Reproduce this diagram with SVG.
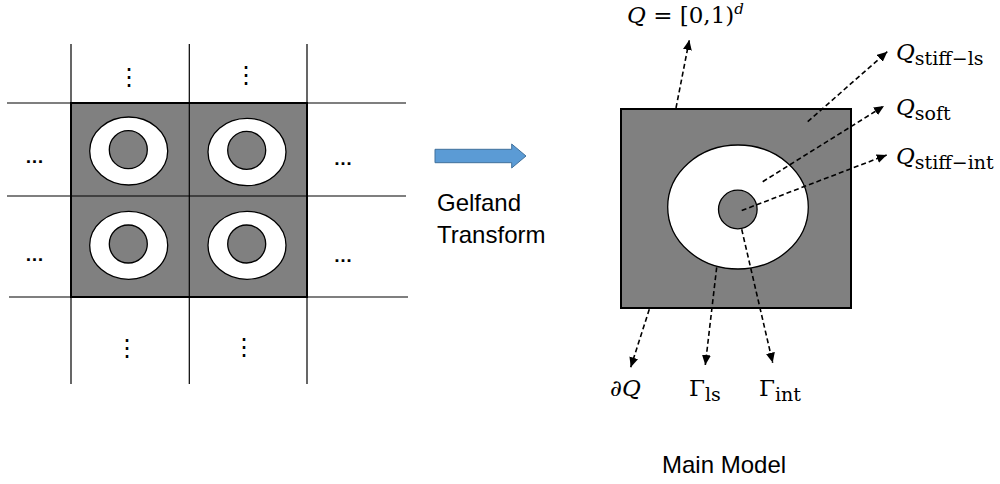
<svg xmlns="http://www.w3.org/2000/svg" width="1000" height="484" viewBox="0 0 1000 484">
<defs>
<style>
.gl{stroke:#000;stroke-width:1.2;fill:none}
.gray{fill:#808080;stroke:#000;stroke-width:2}
.inc{fill:#fff;stroke:#000;stroke-width:1.3}
.core{fill:#808080;stroke:#000;stroke-width:1.3}
.txt{font-family:"Liberation Sans",Arial,sans-serif;font-size:24px;fill:#000}
.dots{font-family:"Liberation Sans",Arial,sans-serif;font-size:19px;font-weight:bold;fill:#000;text-anchor:middle}
.vdots{font-family:"DejaVu Sans",sans-serif;font-size:24px;fill:#000;text-anchor:middle}
.math{font-family:"DejaVu Serif","Liberation Serif",serif;font-size:23px;fill:#000}
.it{font-style:italic}
.sub{font-size:19px}
.dash{stroke:#000;stroke-width:1.6;stroke-dasharray:5 3;fill:none;marker-end:url(#ah)}
</style>
<marker id="ah" markerWidth="10" markerHeight="10" refX="10" refY="5" orient="auto" markerUnits="userSpaceOnUse">
<path d="M0,0.5 L10,5 L0,9.5 z" fill="#000"/>
</marker>
</defs>
<rect width="1000" height="484" fill="#fff"/>

<g id="periodic-tiling">
<rect class="gray" x="71" y="103" width="236" height="194"/>
<g id="cell-tl"><ellipse class="inc" cx="128.7" cy="151" rx="39" ry="34"/><circle class="core" cx="128.3" cy="149.7" r="19"/></g>
<g id="cell-tr"><ellipse class="inc" cx="247" cy="152" rx="39" ry="33.7"/><circle class="core" cx="246.7" cy="150.3" r="19"/></g>
<g id="cell-bl"><ellipse class="inc" cx="128.7" cy="245.3" rx="39" ry="34"/><circle class="core" cx="128.3" cy="244" r="19"/></g>
<g id="cell-br"><ellipse class="inc" cx="247" cy="245.3" rx="39" ry="34"/><circle class="core" cx="246.7" cy="244" r="19"/></g>
<line class="gl" x1="71" y1="44" x2="71" y2="384"/>
<line class="gl" x1="189.3" y1="44" x2="189.3" y2="384"/>
<line class="gl" x1="307" y1="44" x2="307" y2="384"/>
<line class="gl" x1="7" y1="103" x2="406" y2="103"/>
<line class="gl" x1="7" y1="196" x2="406" y2="196"/>
<line class="gl" x1="9" y1="297" x2="408" y2="297"/>
<text class="vdots" x="129" y="84.5">⋮</text>
<text class="vdots" x="246" y="83">⋮</text>
<text class="vdots" x="127" y="356">⋮</text>
<text class="vdots" x="244" y="355">⋮</text>
<text class="dots" x="34.5" y="163">…</text>
<text class="dots" x="343" y="165">…</text>
<text class="dots" x="34.5" y="260.5">…</text>
<text class="dots" x="343" y="262">…</text>
</g>

<g id="gelfand-transform">
<path d="M435,149.3 L511.7,149.3 L511.7,144 L526,156 L511.7,168 L511.7,162.7 L435,162.7 Z" fill="#5B9BD5" stroke="#41719C" stroke-width="1"/>
<text class="txt" x="437" y="210.7">Gelfand</text>
<text class="txt" x="437" y="242.7">Transform</text>
</g>

<g id="main-model">
<rect id="unit-cell" class="gray" x="621" y="109" width="230" height="199"/>
<ellipse id="soft-inclusion" class="inc" cx="738" cy="207" rx="70.3" ry="62"/>
<circle id="stiff-inclusion" class="core" cx="737.8" cy="209.5" r="19.3"/>
<text class="txt" x="662" y="473.3">Main Model</text>
</g>

<g id="connectors">
<line class="dash" x1="676" y1="108" x2="689.3" y2="40"/>
<line class="dash" x1="807.7" y1="121.7" x2="887.3" y2="51.7"/>
<line class="dash" x1="762.7" y1="181.7" x2="884" y2="106"/>
<line class="dash" x1="741.7" y1="210.5" x2="886.7" y2="155"/>
<line class="dash" x1="649.3" y1="309.3" x2="630.7" y2="367.3"/>
<line class="dash" x1="716.7" y1="267.3" x2="705.3" y2="365"/>
<line class="dash" x1="741.7" y1="229.3" x2="772.7" y2="362.7"/>
</g>

<g id="label-Q">
<text class="math" x="627" y="23" font-size="22"><tspan class="it">Q</tspan> = [0,1)<tspan class="it" font-size="15" dy="-9">d</tspan></text>
</g>
<g id="label-Q-stiff-ls">
<text class="math" x="896" y="60"><tspan class="it">Q</tspan><tspan class="sub" dy="5">stiff−ls</tspan></text>
</g>
<g id="label-Q-soft">
<text class="math" x="896" y="115"><tspan class="it">Q</tspan><tspan class="sub" dy="5">soft</tspan></text>
</g>
<g id="label-Q-stiff-int">
<text class="math" x="896" y="164"><tspan class="it">Q</tspan><tspan class="sub" dy="5">stiff−int</tspan></text>
</g>
<g id="label-dQ">
<text class="math it" x="610" y="396">∂Q</text>
</g>
<g id="label-Gamma-ls">
<text class="math" x="689" y="396">Γ<tspan class="sub" dy="5">ls</tspan></text>
</g>
<g id="label-Gamma-int">
<text class="math" x="759" y="396">Γ<tspan class="sub" dy="5">int</tspan></text>
</g>
</svg>
